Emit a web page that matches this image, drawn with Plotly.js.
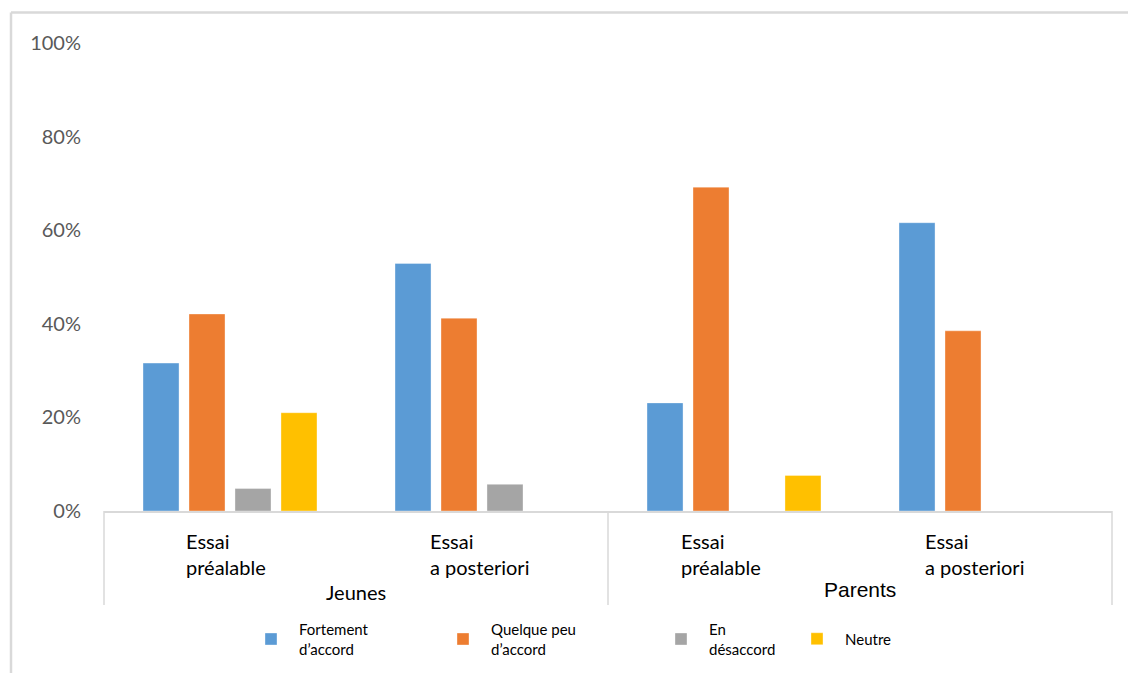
<!DOCTYPE html>
<html>
<head>
<meta charset="utf-8">
<script src="https://cdn.plot.ly/plotly-3.0.1.min.js"></script>
<style>html,body{margin:0;padding:0;background:#fff;}#chart{width:1128px;height:673px;}</style>
</head>
<body>
<div id="chart"></div>
<script>
// ---- data ----
const catKeys = ['Jeunes – Essai préalable', 'Jeunes – Essai a posteriori', 'Parents – Essai préalable', 'Parents – Essai a posteriori'];
const subLabels = ['Essai<br>préalable', 'Essai<br>a posteriori', 'Essai<br>préalable', 'Essai<br>a posteriori'];
const groupLabels = ['Jeunes', 'Parents'];
const seriesNames = ['Fortement<br>d’accord', 'Quelque peu<br>d’accord', 'En<br>désaccord', 'Neutre'];
const fortement = [0.316, 0.529, 0.231, 0.616];
const quelquePeu = [0.421, 0.412, 0.692, 0.385];
const desaccord = [0.048, 0.057, null, null];
const neutre = [0.210, null, 0.076, null];
const yTicks = [0, 0.2, 0.4, 0.6, 0.8, 1.0];

const seriesValues = [fortement, quelquePeu, desaccord, neutre];
const colors = ['#5B9BD5', '#ED7D31', '#A5A5A5', '#FFC000'];
const legendIds = ['legend', 'legend2', 'legend3', 'legend4'];

const traces = seriesValues.map((vals, i) => ({
  type: 'bar',
  name: seriesNames[i],
  x: catKeys,
  y: vals,
  marker: {color: colors[i], line: {width: 1, color: 'rgba(255,255,255,0.35)'}},
  legend: legendIds[i],
  hovertemplate: '%{y:.1%}<extra></extra>'
}));

// layout helpers (pixel -> paper)
const L = 104, R = 16, T = 43, B = 162, W = 1128, H = 673;
const pw = W - L - R, ph = H - T - B;
const px = x => (x - L) / pw;
const py = y => (H - B - y) / ph;

const legendSymbolX = [271, 463, 681, 817];
const legendFont = {family: 'Lato, sans-serif', size: 15, color: '#000'};
const legends = {};
legendIds.forEach((id, i) => {
  legends[id] = {
    x: px(legendSymbolX[i] - 28), xanchor: 'left',
    y: py(639), yanchor: 'middle',
    itemwidth: 46,
    font: legendFont, bgcolor: 'rgba(0,0,0,0)', borderwidth: 0,
    itemclick: false, itemdoubleclick: false
  };
});

const subShift = [-46, -54, -55, -63];
const annotations = subLabels.map((t, i) => ({
  text: t, x: catKeys[i], xref: 'x', y: py(527), yref: 'paper',
  xanchor: 'left', yanchor: 'top', align: 'left', xshift: subShift[i],
  showarrow: false, font: {family: 'Lato, sans-serif', size: 20, color: '#000'}
}));
annotations.push({
  text: groupLabels[0], x: 0.25, xref: 'paper', y: py(592), yref: 'paper',
  xanchor: 'center', yanchor: 'middle', showarrow: false,
  font: {family: 'Lato, sans-serif', size: 20, color: '#000'}
});
annotations.push({
  text: groupLabels[1], x: 0.75, xref: 'paper', y: py(589), yref: 'paper',
  xanchor: 'center', yanchor: 'middle', showarrow: false,
  font: {family: '"Liberation Sans", Arial, sans-serif', size: 21, color: '#000'}
});

const lineStyle = {color: '#D9D9D9', width: 1.5};
const shapes = [0, 0.5, 1].map(xp => ({
  type: 'line', xref: 'paper', yref: 'paper', x0: xp, x1: xp, y0: 0, y1: py(605), line: lineStyle
}));
shapes.push({type: 'line', xref: 'paper', yref: 'paper', x0: px(11), x1: px(1128), y0: py(12.5), y1: py(12.5), line: {color: '#D9D9D9', width: 2.5}});
shapes.push({type: 'line', xref: 'paper', yref: 'paper', x0: px(11), x1: px(11), y0: py(12.5), y1: py(673), line: {color: '#D9D9D9', width: 2.5}});

const layout = Object.assign({
  width: W, height: H,
  margin: {l: L, r: R, t: T, b: B, pad: 0, autoexpand: false},
  paper_bgcolor: '#fff', plot_bgcolor: '#fff',
  barmode: 'group', bargap: 0.27, bargroupgap: 0.217,
  showlegend: true,
  xaxis: {
    type: 'category', categoryorder: 'array', categoryarray: catKeys,
    range: [-0.5, 3.5], showticklabels: false, ticks: '',
    showline: true, linecolor: '#D9D9D9', linewidth: 1.5,
    showgrid: false, zeroline: false, fixedrange: true, automargin: false
  },
  yaxis: {
    range: [0, 1], tickvals: yTicks, tickformat: '.0%',
    showgrid: false, zeroline: false, showline: false, ticks: '',
    ticklabelstandoff: 22, automargin: false,
    tickfont: {family: 'Lato, sans-serif', size: 20, color: '#595959'},
    fixedrange: true
  },
  annotations: annotations,
  shapes: shapes
}, legends);

Plotly.newPlot('chart', traces, layout, {displayModeBar: false, staticPlot: false});
</script>
</body>
</html>
